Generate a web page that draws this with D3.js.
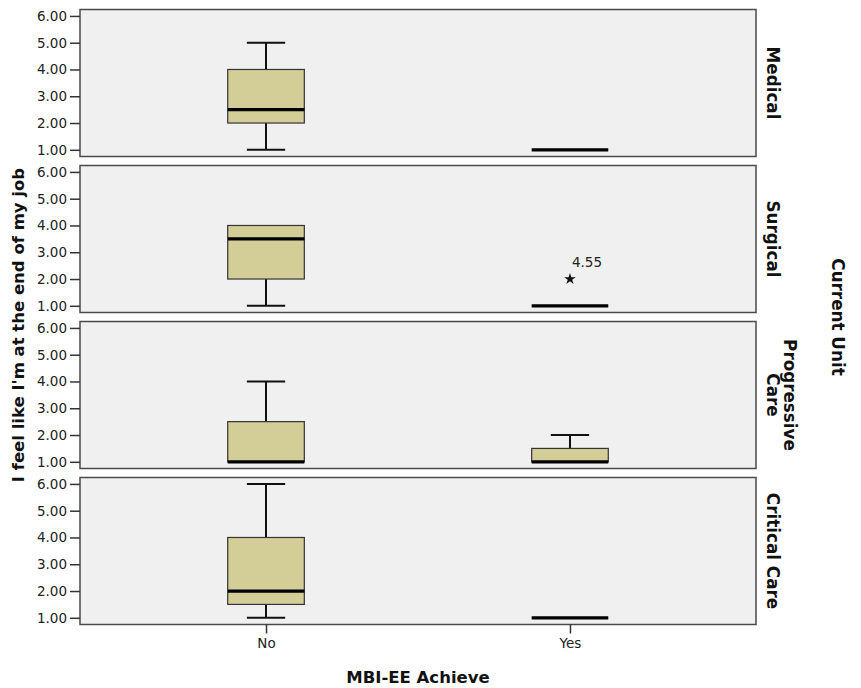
<!DOCTYPE html>
<html>
<head>
<meta charset="utf-8">
<script src="https://cdn.jsdelivr.net/npm/d3@7"></script>
<style>
  html, body { margin: 0; padding: 0; background: #ffffff; }
  svg { display: block; }
</style>
</head>
<body>
<svg id="chart" width="861" height="688"></svg>
<script>
// Panels (rows) and categories on the x axis
const units = ["Medical", "Surgical", "Progressive Care", "Critical Care"];
const unitLines = [["Medical"], ["Surgical"], ["Progressive", "Care"], ["Critical Care"]];
const groups = ["No", "Yes"];
const yTicks = [1, 2, 3, 4, 5, 6];

// Five-number summaries per unit: [min, q1, median, q3, max]
const noStats  = [[1, 2, 2.5, 4, 5], [1, 2, 3.5, 4, 4], [1, 1, 1, 2.5, 4], [1, 1.5, 2, 4, 6]];
const yesStats = [[1, 1, 1, 1, 1],   [1, 1, 1, 1, 1],   [1, 1, 1, 1.5, 2], [1, 1, 1, 1, 1]];

// Extreme values (starred) with their case labels
const extremeUnits  = ["Surgical"];
const extremeGroups = ["Yes"];
const extremeValues = [2];
const extremeLabels = ["4.55"];

const svg = d3.select("#chart");

const left = 80, right = 756;
const panelTop0 = 9.5, panelH = 147, panelStep = 156;
const boxColor = "#d3ce97";
const panelBg = "#f0f0f0";
const tickFont = "'DejaVu Sans', Verdana, sans-serif";
const boldFont = "'DejaVu Sans', Verdana, sans-serif";

const x = d3.scalePoint().domain(groups).range([left, right]).padding(0.612);
const boxW = x.step() * 0.252;
const capW = boxW * 0.5;

units.forEach((unit, i) => {
  const top = panelTop0 + i * panelStep;
  const y = d3.scaleLinear().domain([0.75, 6.24]).range([top + panelH, top]);
  const g = svg.append("g");

  // panel background and frame
  g.append("rect")
    .attr("x", left).attr("y", top)
    .attr("width", right - left).attr("height", panelH)
    .attr("fill", panelBg)
    .attr("stroke", "#4a4a4a").attr("stroke-width", 1.5);

  // y axis
  const yAxis = d3.axisLeft(y).tickValues(yTicks).tickFormat(d3.format(".2f"))
    .tickSize(10).tickSizeOuter(0).tickPadding(3);
  const ax = g.append("g").attr("transform", `translate(${left},0)`).call(yAxis);
  ax.select(".domain").remove();
  ax.selectAll(".tick line").attr("stroke", "#333").attr("stroke-width", 1.5);
  ax.selectAll(".tick text")
    .attr("font-family", tickFont).attr("font-size", 13.5)
    .attr("fill", "#222");

  // boxes
  const stats = [noStats[i], yesStats[i]];
  groups.forEach((grp, j) => {
    const [mn, q1, md, q3, mx] = stats[j];
    const cx = x(grp);
    const bg = g.append("g");
    // whiskers
    if (mx > q3) {
      bg.append("line").attr("x1", cx).attr("x2", cx).attr("y1", y(q3)).attr("y2", y(mx))
        .attr("stroke", "#111").attr("stroke-width", 2);
      bg.append("line").attr("x1", cx - capW / 2).attr("x2", cx + capW / 2)
        .attr("y1", y(mx)).attr("y2", y(mx))
        .attr("stroke", "#111").attr("stroke-width", 2);
    }
    if (mn < q1) {
      bg.append("line").attr("x1", cx).attr("x2", cx).attr("y1", y(q1)).attr("y2", y(mn))
        .attr("stroke", "#111").attr("stroke-width", 2);
      bg.append("line").attr("x1", cx - capW / 2).attr("x2", cx + capW / 2)
        .attr("y1", y(mn)).attr("y2", y(mn))
        .attr("stroke", "#111").attr("stroke-width", 2);
    }
    // box
    if (q3 > q1) {
      bg.append("rect")
        .attr("x", cx - boxW / 2).attr("y", y(q3))
        .attr("width", boxW).attr("height", y(q1) - y(q3))
        .attr("fill", boxColor).attr("stroke", "#333").attr("stroke-width", 1.2);
    }
    // median
    bg.append("line").attr("x1", cx - boxW / 2).attr("x2", cx + boxW / 2)
      .attr("y1", y(md)).attr("y2", y(md))
      .attr("stroke", "#000").attr("stroke-width", 3.2);
  });

  // extreme values
  extremeUnits.forEach((u, k) => {
    if (u !== unit) return;
    const cx = x(extremeGroups[k]);
    const cy = y(extremeValues[k]);
    g.append("path")
      .attr("d", d3.symbol().type(d3.symbolStar).size(42)())
      .attr("transform", `translate(${cx},${cy})`)
      .attr("fill", "#111");
    g.append("text")
      .attr("x", cx + 2).attr("y", cy - 12)
      .attr("font-family", tickFont).attr("font-size", 13.5)
      .attr("fill", "#222")
      .text(extremeLabels[k]);
  });

  // strip label on the right
  const lines = unitLines[i];
  const cy = top + panelH / 2;
  const lt = g.append("text")
    .attr("transform", `translate(${767 + (lines.length - 1) * 17},${cy}) rotate(90)`)
    .attr("text-anchor", "middle")
    .attr("font-family", boldFont).attr("font-weight", "bold").attr("font-size", 16.8)
    .attr("fill", "#111");
  lines.forEach((ln, k) => {
    lt.append("tspan").attr("x", 0).attr("dy", k === 0 ? 0 : 17).text(ln);
  });
});

// x axis below the last panel
const lastBottom = panelTop0 + 3 * panelStep + panelH;
const xAxis = d3.axisBottom(x).tickSize(9).tickSizeOuter(0).tickPadding(5);
const xg = svg.append("g").attr("transform", `translate(0,${lastBottom})`).call(xAxis);
xg.select(".domain").remove();
xg.selectAll(".tick line").attr("stroke", "#333").attr("stroke-width", 1.5);
xg.selectAll(".tick text")
  .attr("font-family", tickFont).attr("font-size", 13.5).attr("fill", "#222");

// axis titles
const midY = (panelTop0 + lastBottom) / 2;
svg.append("text")
  .attr("x", (left + right) / 2).attr("y", 683)
  .attr("text-anchor", "middle")
  .attr("font-family", boldFont).attr("font-weight", "bold").attr("font-size", 16.5)
  .attr("fill", "#111")
  .text("MBI-EE Achieve");

svg.append("text")
  .attr("transform", `translate(24,${midY + 8}) rotate(-90)`)
  .attr("text-anchor", "middle")
  .attr("font-family", boldFont).attr("font-weight", "bold").attr("font-size", 16.5)
  .attr("fill", "#111")
  .text("I feel like I'm at the end of my job");

svg.append("text")
  .attr("transform", `translate(832,${midY}) rotate(90)`)
  .attr("text-anchor", "middle")
  .attr("font-family", boldFont).attr("font-weight", "bold").attr("font-size", 16.8)
  .attr("fill", "#111")
  .text("Current Unit");
</script>
</body>
</html>
